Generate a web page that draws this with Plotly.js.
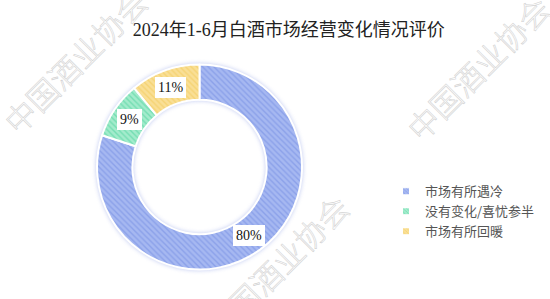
<!DOCTYPE html>
<html><head><meta charset="utf-8">
<script src="https://cdn.plot.ly/plotly-3.0.1.min.js"></script>
<style>
html,body{margin:0;padding:0;background:#fff;}
#chart{width:550px;height:299px;}
.pielayer{filter: drop-shadow(0 0 2px rgba(120,140,225,0.45));}
g.annotation[data-index="0"] text, g.annotation[data-index="1"] text, g.annotation[data-index="2"] text{
  fill: #ffffff !important; stroke: #d2d2d2 !important; stroke-width: 0.6px; fill-opacity: 1 !important;
}
path.legendpie{transform: translate(21px, 0px) scale(0.6);}
</style></head><body><div id="chart"></div>
<script>
// ---- data ----
const categories = ['市场有所遇冷', '没有变化/喜忧参半', '市场有所回暖'];
const shares = [80, 9, 11];
const sliceLabels = ['80%', '9%', '11%'];
const titleText = '2024年1-6月白酒市场经营变化情况评价';
const watermarkText = '中国酒业协会';

// ---- styles ----
const baseColors = ['#a6b8f1', '#a3ebcc', '#f9df96'];
const lineColors = ['#7089e2', '#45d299', '#f2c850'];
const W = 550, H = 299;
const domX = [0.1764, 0.5491], domY = [0.0987, 0.7843];
const hole = 0.655;

// geometry of the pie (same rules Plotly uses with zero margins)
const cx = W * (domX[0] + domX[1]) / 2;
const cy = H * (1 - (domY[0] + domY[1]) / 2);
const r = Math.min(W * (domX[1] - domX[0]), H * (domY[1] - domY[0])) / 2;
const rLab = r * (1 + hole) / 2;
const total = shares.reduce((a, b) => a + b, 0);

const annotations = [];
// watermarks
[[75, 61], [478, 68], [276, 266]].forEach(p => {
  annotations.push({
    text: watermarkText, xref: 'paper', yref: 'paper',
    x: p[0] / W, y: 1 - p[1] / H, xanchor: 'center', yanchor: 'middle',
    showarrow: false, textangle: -45,
    font: {family: 'Noto Sans CJK SC', size: 31, color: '#ffffff', weight: 300}
  });
});
// slice labels in white boxes, at mid-ring of each slice
let cum = 0;
shares.forEach((v, i) => {
  const th = 2 * Math.PI * (cum + v / 2) / total;
  cum += v;
  const px = cx + rLab * Math.sin(th);
  const py = cy - rLab * Math.cos(th);
  annotations.push({
    text: sliceLabels[i], xref: 'paper', yref: 'paper',
    x: px / W, y: 1 - py / H, xanchor: 'center', yanchor: 'middle',
    showarrow: false, bgcolor: '#ffffff', borderpad: 3, borderwidth: 0,
    font: {family: 'Liberation Serif, Noto Sans CJK SC', size: 14, color: '#111'}
  });
});

const trace = {
  type: 'pie',
  labels: categories,
  values: shares,
  hole: hole,
  sort: false,
  direction: 'clockwise',
  rotation: 0,
  textinfo: 'none',
  hoverinfo: 'label+percent',
  domain: {x: domX, y: domY},
  marker: {
    colors: baseColors,
    line: {color: '#ffffff', width: 2},
    pattern: {shape: '\\', fgcolor: lineColors, size: 4, solidity: 0.35, fillmode: 'overlay'}
  }
};

const layout = {
  width: W, height: H,
  margin: {l: 0, r: 0, t: 0, b: 0},
  paper_bgcolor: '#ffffff',
  title: {
    text: titleText, x: 0.525, xanchor: 'center', y: 0.9, yanchor: 'middle',
    font: {family: 'Liberation Serif, Noto Sans CJK SC', size: 18, color: '#222'}
  },
  showlegend: true,
  legend: {
    x: 0.70, xanchor: 'left', y: 0.41, yanchor: 'top',
    font: {family: 'Noto Sans CJK SC', size: 13, color: '#555'},
    bgcolor: 'rgba(0,0,0,0)'
  },
  annotations: annotations
};

Plotly.newPlot('chart', [trace], layout, {displayModeBar: false, staticPlot: true});
</script></body></html>
